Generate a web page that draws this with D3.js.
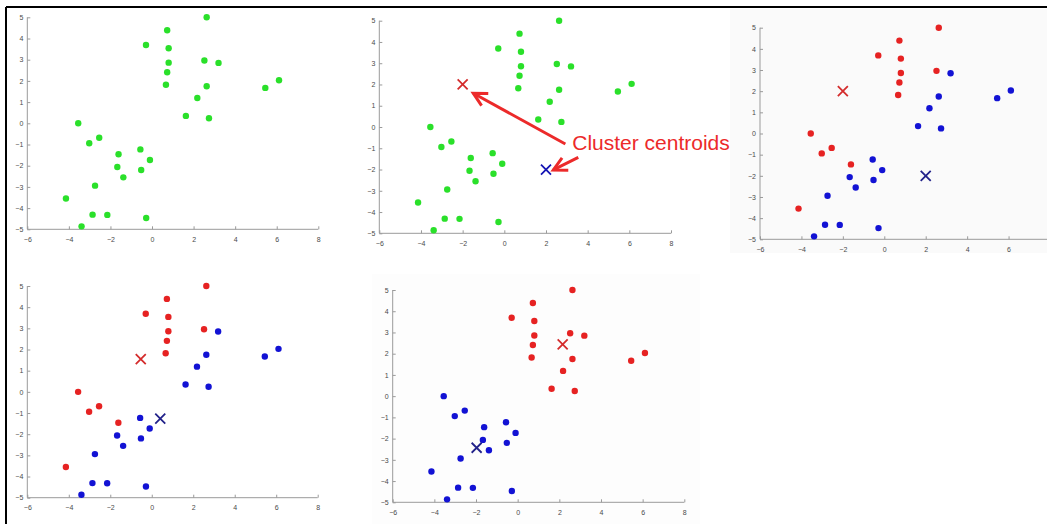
<!DOCTYPE html>
<html>
<head>
<meta charset="utf-8">
<script src="https://cdn.jsdelivr.net/npm/d3@7"></script>
<style>
  body { margin: 0; background: #fff; }
  svg { display: block; font-family: "Liberation Sans", Arial, sans-serif; }
  .axis path, .axis line { stroke: #9a9a9a; }
  .axis text { fill: #4a4a4a; font-size: 7px; }
</style>
</head>
<body>
<svg width="1047" height="524"></svg>
<script>
  'use strict';

  // the 30 sample points (same in every panel)
  const xs = [2.63, 0.73, -0.29, 0.8, 2.52, 3.2, 0.8, 0.73, 0.67, 2.63, 6.11, 5.45, 2.18, 1.63, 2.74,
              -3.55, -2.54, -3.02, -0.56, -1.61, -0.10, -1.67, -0.52, -1.38, -2.74, -4.14, -2.86, -2.15, -0.28, -3.39];
  const ys = [5.0, 4.39, 3.69, 3.54, 2.96, 2.85, 2.86, 2.41, 1.82, 1.75, 2.03, 1.67, 1.19, 0.35, 0.24,
              0.0, -0.68, -0.94, -1.23, -1.46, -1.73, -2.06, -2.2, -2.55, -2.94, -3.55, -4.31, -4.32, -4.47, -4.86];

  // cluster index per point (0 = red, 1 = blue)
  const assignStep1 = [0, 0, 0, 0, 0, 1, 0, 0, 0, 1, 1, 1, 1, 1, 1,
                       0, 0, 0, 1, 0, 1, 1, 1, 1, 1, 0, 1, 1, 1, 1];
  const assignStep2 = [0, 0, 0, 0, 0, 0, 0, 0, 0, 0, 0, 0, 0, 0, 0,
                       1, 1, 1, 1, 1, 1, 1, 1, 1, 1, 1, 1, 1, 1, 1];

  // centroid positions [red, blue]
  const centroidsStart = [[-2, 2], [2, -2]];
  const centroidsMoved = [[-0.53, 1.55], [0.41, -1.27]];
  const centroidsFinal = [[2.16, 2.44], [-1.97, -2.43]];

  const xTicks = [-6, -4, -2, 0, 2, 4, 6, 8];
  const xTicksCropped = [-6, -4, -2, 0, 2, 4, 6];
  const yTicks = [-5, -4, -3, -2, -1, 0, 1, 2, 3, 4, 5];

  // annotation in panel 2 (data units)
  const arrows = [
    { from: [2.93, -0.80], to: [-1.49, 1.59] },
    { from: [3.55, -1.43], to: [2.35, -2.02] }
  ];
  const labelText = 'Cluster centroids';
  const labelAt = [3.26, -1.08];

  const dotColor = ['#e62222', '#1212d4'];
  const crossColor = ['#d42c2c', '#22228a'];

  const svg = d3.select('svg');

  // faint screenshot backgrounds
  svg.append('rect').attr('x', 730).attr('y', 9).attr('width', 317).attr('height', 244).attr('fill', '#fafafa');
  svg.append('rect').attr('x', 372).attr('y', 274).attr('width', 328).attr('height', 250).attr('fill', '#fdfdfd');

  const panels = [
    { x0: 27.3, x1: 318.3, top: 17.3, bottom: 229.3, ticks: xTicks, assign: null, centroids: null },
    { x0: 379.3, x1: 671, top: 20.7, bottom: 233.3, ticks: xTicks, assign: null, centroids: centroidsStart, crossBlue: '#1515b4', note: true },
    { x0: 760, x1: 1050, top: 27.7, bottom: 239.3, ticks: xTicksCropped, assign: assignStep1, centroids: centroidsStart },
    { x0: 27.3, x1: 317.7, top: 286, bottom: 497.7, ticks: xTicks, assign: assignStep1, centroids: centroidsMoved },
    { x0: 392.7, x1: 684.3, top: 290, bottom: 502.3, ticks: xTicks, assign: assignStep2, centroids: centroidsFinal }
  ];

  const points = xs.map((x, i) => ({ x: x, y: ys[i], i: i }));

  panels.forEach(p => {
    const x = d3.scaleLinear().domain([-6, 8]).range([p.x0, p.x1]);
    const y = d3.scaleLinear().domain([-5, 5]).range([p.bottom, p.top]);
    const g = svg.append('g');

    g.append('g').attr('class', 'axis')
        .attr('transform', `translate(0,${p.bottom})`)
        .call(d3.axisBottom(x).tickValues(p.ticks).tickSize(-3).tickPadding(6).tickFormat(d3.format('d')))
        .call(a => a.select('.domain').attr('d', `M${p.x0},0H${p.x1}`))
        .selectAll('text').attr('dy', '0.9em');

    g.append('g').attr('class', 'axis')
        .attr('transform', `translate(${p.x0},0)`)
        .call(d3.axisLeft(y).tickValues(yTicks).tickSize(-3).tickPadding(4).tickFormat(d3.format('d')))
        .call(a => a.select('.domain').attr('d', `M0,${p.top}V${p.bottom}`));

    g.selectAll('circle').data(points)
      .enter().append('circle')
        .attr('cx', d => x(d.x))
        .attr('cy', d => y(d.y))
        .attr('r', 3.2)
        .attr('fill', d => p.assign ? dotColor[p.assign[d.i]] : '#2ae02a');

    if (p.centroids) {
      p.centroids.forEach((c, k) => {
        const cx = x(c[0]), cy = y(c[1]), s = 5;
        const col = (k === 1 && p.crossBlue) ? p.crossBlue : crossColor[k];
        g.append('path')
          .attr('d', `M${cx - s},${cy - s}L${cx + s},${cy + s}M${cx - s},${cy + s}L${cx + s},${cy - s}`)
          .attr('stroke', col)
          .attr('stroke-width', 1.8)
          .attr('fill', 'none');
      });
    }

    if (p.note) {
      const red = '#ec2a2a';
      arrows.forEach(a => {
        const fx = x(a.from[0]), fy = y(a.from[1]);
        const tx = x(a.to[0]), ty = y(a.to[1]);
        const ang = Math.atan2(fy - ty, fx - tx);
        const len = 15, spread = 0.48;
        g.append('line')
          .attr('x1', fx).attr('y1', fy).attr('x2', tx).attr('y2', ty)
          .attr('stroke', red).attr('stroke-width', 3);
        g.append('path')
          .attr('d', `M${tx + len * Math.cos(ang - spread)},${ty + len * Math.sin(ang - spread)}` +
                     `L${tx},${ty}` +
                     `L${tx + len * Math.cos(ang + spread)},${ty + len * Math.sin(ang + spread)}`)
          .attr('stroke', red).attr('stroke-width', 3)
          .attr('fill', 'none').attr('stroke-linejoin', 'miter');
      });
      g.append('text')
        .attr('x', x(labelAt[0]))
        .attr('y', y(labelAt[1]))
        .attr('fill', red)
        .attr('font-size', 21)
        .text(labelText);
    }
  });

  // screenshot frame (top and left edges only)
  svg.append('line').attr('x1', 6).attr('y1', 7).attr('x2', 1047).attr('y2', 7).attr('stroke', '#000').attr('stroke-width', 2);
  svg.append('line').attr('x1', 6).attr('y1', 7).attr('x2', 6).attr('y2', 524).attr('stroke', '#000').attr('stroke-width', 2);
</script>
</body>
</html>
